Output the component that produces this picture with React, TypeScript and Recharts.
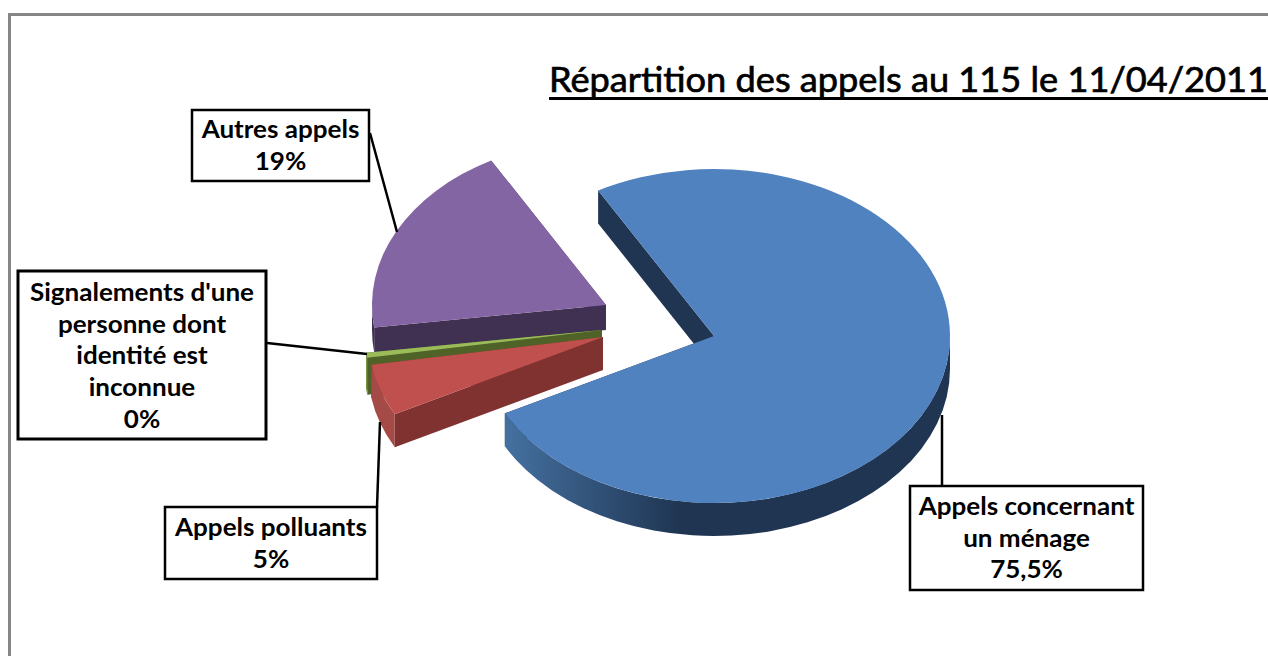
import { Pie, PieChart } from 'recharts';

const TITLE = 'Répartition des appels au 115 le 11/04/2011';

// order = drawing order, back slices first
const categories = ['Autres appels', "Signalements d'une personne dont identité est inconnue", 'Appels polluants', 'Appels concernant un ménage'];
const values = [19, 0.5, 5, 75.5];
const percentLabels = ['19%', '0%', '5%', '75,5%'];
const labelLines = [
  ['Autres appels'],
  ["Signalements d'une", 'personne dont', 'identité est', 'inconnue'],
  ['Appels polluants'],
  ['Appels concernant', 'un ménage'],
];

const topColors = ['#8465a3', '#9bbb59', '#c0504d', '#5082bf'];
const cutColors = ['#403152', '#4f6228', '#7f3230', '#1f3552'];
const rimColors = ['#403152', '#7d9b48', '#a44a47', 'url(#blueRim)'];

// offset from the pie centre once exploded, flattened radii and thickness
const sliceLayout = [
  { dx: -108, dy: -31, rx: 234, ry: 166, depth: 25 },
  { dx: -112, dy: -6, rx: 238, ry: 167, depth: 37 },
  { dx: -111, dy: 1, rx: 235, ry: 167, depth: 33 },
  { dx: 0, dy: 0, rx: 236, ry: 167, depth: 33 },
];

const boxes = [
  { x: 192, y: 110, w: 177, h: 71, stroke: 2.5, first: 138, line: [370, 133, 397, 232] },
  { x: 18, y: 271, w: 248, h: 168, stroke: 3, first: 301, line: [267, 343, 367, 354] },
  { x: 165, y: 507, w: 212, h: 72, stroke: 2.5, first: 536, line: [377, 507, 380, 422] },
  { x: 910, y: 486, w: 233, h: 104, stroke: 2.5, first: 515, line: [942, 486, 942, 415] },
];

const FONT = 'Lato, sans-serif';

const Slice = (props: any) => {
  const i = props.index ?? values.indexOf(props.value);
  const { dx, dy, rx, ry, depth } = sliceLayout[i];
  const cx = props.cx + dx;
  const cy = props.cy + dy;
  const a0 = Math.min(props.startAngle, props.endAngle);
  const a1 = Math.max(props.startAngle, props.endAngle);
  const pt = (a: number, down = 0) => {
    const r = (a * Math.PI) / 180;
    return `${cx + rx * Math.cos(r)} ${cy - ry * Math.sin(r) + down}`;
  };
  const large = a1 - a0 > 180 ? 1 : 0;
  const top = `M${cx} ${cy}L${pt(a0)}A${rx} ${ry} 0 ${large} 0 ${pt(a1)}Z`;
  const cut = (a: number) => `M${cx} ${cy}L${pt(a)}L${pt(a, depth)}L${cx} ${cy + depth}Z`;
  // only the part of the rim below the horizontal diameter shows
  const r0 = Math.max(a0, 180);
  const r1 = Math.min(a1, 360);
  const rim = `M${pt(r0)}A${rx} ${ry} 0 0 0 ${pt(r1)}L${pt(r1, depth)}A${rx} ${ry} 0 0 1 ${pt(r0, depth)}Z`;
  return (
    <g>
      <path d={cut(a0)} fill={cutColors[i]} />
      <path d={cut(a1)} fill={cutColors[i]} />
      {r1 > r0 && <path d={rim} fill={rimColors[i]} />}
      <path d={top} fill={topColors[i]} />
    </g>
  );
};

const SliceLabel = (props: any) => {
  const i = props.index;
  const b = boxes[i];
  const rows = [...labelLines[i], percentLabels[i]];
  return (
    <g>
      <line x1={b.line[0]} y1={b.line[1]} x2={b.line[2]} y2={b.line[3]} stroke="#000" strokeWidth={2.5} />
      <rect x={b.x} y={b.y} width={b.w} height={b.h} fill="#fff" stroke="#000" strokeWidth={b.stroke} />
      {rows.map((row, k) => (
        <text
          key={k}
          transform={`translate(${b.x + b.w / 2} ${b.first + k * 31.7}) scale(1.085 1)`}
          textAnchor="middle"
          fontFamily={FONT}
          fontWeight={700}
          fontSize={24}
          fill="#000"
        >
          {row}
        </text>
      ))}
    </g>
  );
};

const data = categories.map((name, i) => ({ name, value: values[i] }));

export default function App() {
  return (
    <div style={{ position: 'absolute', left: 0, top: 0, width: 1268, height: 656, overflow: 'hidden', background: '#fff' }}>
      <PieChart width={1268} height={656} margin={{ top: 0, right: 0, bottom: 0, left: 0 }}>
        <defs>
          <linearGradient id="blueRim" gradientUnits="userSpaceOnUse" x1={507} y1={0} x2={680} y2={0}>
            <stop offset="0%" stopColor="#44709f" />
            <stop offset="100%" stopColor="#1f3552" />
          </linearGradient>
        </defs>
        <rect x={9.5} y={14.5} width={1400} height={800} fill="none" stroke="#868686" strokeWidth={3} />
        <text x={549} y={92} fontFamily={FONT} fontWeight={400} fontSize={35} fill="#000" stroke="#000" strokeWidth={0.7} textLength={719} lengthAdjust="spacingAndGlyphs">
          {TITLE}
        </text>
        <rect x={549} y={97} width={719} height={3} fill="#000" />
        <Pie
          data={data}
          dataKey="value"
          nameKey="name"
          cx={714}
          cy={336}
          outerRadius={236}
          startAngle={119.4}
          endAngle={479.4}
          stroke="none"
          shape={Slice}
          label={SliceLabel}
          labelLine={false}
          isAnimationActive={false}
        />
      </PieChart>
    </div>
  );
}
